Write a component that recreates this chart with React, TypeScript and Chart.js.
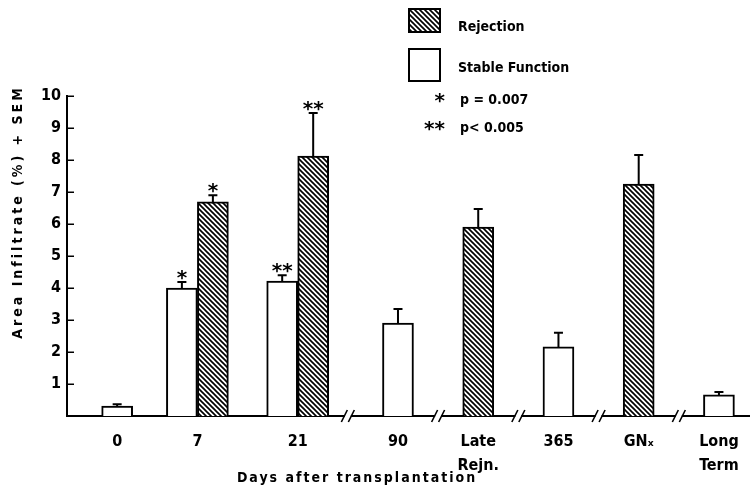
import React, { useEffect, useRef } from "react";
import { Chart, registerables } from "chart.js";

Chart.register(...registerables);

// ---------- data ----------
const categories = ["0", "7", "21", "90", "Late Rejn.", "365", "GNₓ", "Long Term"];
const tickLabels: (string | string[])[] = ["0", "7", "21", "90", ["Late", "Rejn."], "365", "GNₓ", ["Long", "Term"]];
const stableValues: (number | null)[] = [0.31, 4.0, 4.22, 2.9, null, 2.16, null, 0.66];
const stableSem: (number | null)[] = [0.06, 0.19, 0.18, 0.44, null, 0.44, null, 0.09];
const rejectionValues: (number | null)[] = [null, 6.69, 8.12, null, 5.9, null, 7.25, null];
const rejectionSem: (number | null)[] = [null, 0.21, 1.35, null, 0.57, null, 0.91, null];
const stableStars = ["", "*", "**", "", "", "", "", ""];
const rejectionStars = ["", "*", "**", "", "", "", "", ""];
const breakAfter = [false, false, true, true, true, true, true, false];
const legendNotes: [string, string][] = [["*", "p = 0.007"], ["**", "p< 0.005"]];
const yTitle = "Area Infiltrate (%) + SEM";
const xTitle = "Days after transplantation";
const yMin = 0;
const yMax = 10;

// ---------- layout (not data) ----------
const SLOT_COUNT = 34;
const SLOT_OF = [2, 6, 11, 16, 20, 24, 28, 32];
const NARROW = "'Liberation Sans Narrow', 'DejaVu Sans Condensed', 'Arial Narrow', sans-serif";
const STAR_FONT = "bold 20px 'DejaVu Sans', sans-serif";

function makeHatch(): CanvasPattern | string {
  const p = 5;
  const c = document.createElement("canvas");
  c.width = p;
  c.height = p;
  const g = c.getContext("2d");
  if (!g) return "#888";
  g.fillStyle = "#fff";
  g.fillRect(0, 0, p, p);
  g.strokeStyle = "#000";
  g.lineWidth = 1.7;
  for (const k of [-1, 0, 1]) {
    g.beginPath();
    g.moveTo(k * p - 1, -1);
    g.lineTo(k * p + p + 1, p + 1);
    g.stroke();
  }
  return g.createPattern(c, "repeat") || "#888";
}

function drawStar(ctx: CanvasRenderingContext2D, text: string, x: number, bottom: number, align: CanvasTextAlign) {
  ctx.save();
  ctx.font = STAR_FONT;
  ctx.fillStyle = "#000";
  ctx.textAlign = align;
  ctx.textBaseline = "alphabetic";
  const m = ctx.measureText(text);
  ctx.fillText(text, x, bottom - m.actualBoundingBoxDescent);
  ctx.restore();
}

export default function App() {
  const ref = useRef<HTMLCanvasElement>(null);

  useEffect(() => {
    const canvas = ref.current;
    if (!canvas) return;
    const hatch = makeHatch();

    const labels: (string | string[])[] = Array.from({ length: SLOT_COUNT }, () => "");
    const stableData: (number | null)[] = Array(SLOT_COUNT).fill(null);
    const rejectionData: (number | null)[] = Array(SLOT_COUNT).fill(null);
    categories.forEach((_, k) => {
      const s = SLOT_OF[k];
      labels[s] = tickLabels[k];
      stableData[s] = stableValues[k];
      rejectionData[s] = rejectionValues[k];
    });

    const decorations = {
      id: "decorations",
      afterDatasetsDraw(chart: any) {
        const ctx: CanvasRenderingContext2D = chart.ctx;
        const y = chart.scales.y;
        const sets = [
          { sem: stableSem, stars: stableStars },
          { sem: rejectionSem, stars: rejectionStars },
        ];
        ctx.save();
        ctx.strokeStyle = "#000";
        ctx.lineWidth = 2;
        sets.forEach((s, d) => {
          const meta = chart.getDatasetMeta(d);
          categories.forEach((_, k) => {
            const slot = SLOT_OF[k];
            const v = chart.data.datasets[d].data[slot];
            if (v == null) return;
            const el = meta.data[slot];
            const sem = s.sem[k] ?? 0;
            const top = y.getPixelForValue(v + sem);
            ctx.beginPath();
            ctx.moveTo(el.x, el.y);
            ctx.lineTo(el.x, top);
            ctx.moveTo(el.x - 4.5, top);
            ctx.lineTo(el.x + 4.5, top);
            ctx.stroke();
            if (s.stars[k]) drawStar(ctx, s.stars[k], el.x, top - 2, "center");
          });
        });
        ctx.restore();
      },
      afterDraw(chart: any) {
        const ctx: CanvasRenderingContext2D = chart.ctx;
        const area = chart.chartArea;
        const y = chart.scales.y;
        const x = chart.scales.x;
        ctx.save();
        // inward y ticks
        ctx.strokeStyle = "#000";
        ctx.lineWidth = 1.5;
        for (let v = yMin + 1; v <= yMax; v++) {
          const py = Math.round(y.getPixelForValue(v)) + 0.25;
          ctx.beginPath();
          ctx.moveTo(area.left, py);
          ctx.lineTo(area.left + 7, py);
          ctx.stroke();
        }
        // axis breaks
        const base = area.bottom;
        for (let k = 0; k < categories.length - 1; k++) {
          if (!breakAfter[k]) continue;
          const bx = (x.getPixelForValue(SLOT_OF[k]) + x.getPixelForValue(SLOT_OF[k + 1])) / 2;
          ctx.fillStyle = "#fff";
          ctx.fillRect(bx - 3, base - 2, 6, 4);
          ctx.strokeStyle = "#000";
          ctx.lineWidth = 1.6;
          for (const off of [-3.5, 3.5]) {
            ctx.beginPath();
            ctx.moveTo(bx + off - 3, base + 6);
            ctx.lineTo(bx + off + 3, base - 6);
            ctx.stroke();
          }
        }
        // legend
        const ds = chart.data.datasets;
        ctx.lineWidth = 2;
        ctx.strokeStyle = "#000";
        ctx.fillStyle = hatch as any;
        ctx.fillRect(409, 9, 31, 23);
        ctx.strokeRect(409, 9, 31, 23);
        ctx.fillStyle = "#fff";
        ctx.fillRect(409, 49, 31, 32);
        ctx.strokeRect(409, 49, 31, 32);
        ctx.fillStyle = "#000";
        ctx.font = `bold 14px ${NARROW}`;
        ctx.textAlign = "left";
        ctx.textBaseline = "alphabetic";
        ctx.fillText(ds[1].label, 458, 31);
        ctx.fillText(ds[0].label, 458, 72);
        const noteBase = [104, 132];
        legendNotes.forEach(([star, txt], i) => {
          drawStar(ctx, star, 445, noteBase[i] - 1, "right");
          ctx.font = `bold 14px ${NARROW}`;
          ctx.fillStyle = "#000";
          ctx.textAlign = "left";
          ctx.fillText(txt, 460, noteBase[i]);
        });
        // axis titles
        ctx.font = `bold 14px ${NARROW}`;
        (ctx as any).letterSpacing = "2px";
        ctx.textAlign = "center";
        ctx.textBaseline = "alphabetic";
        ctx.fillText(xTitle, 357, 482);
        (ctx as any).letterSpacing = "3px";
        ctx.translate(22, 212);
        ctx.rotate(-Math.PI / 2);
        ctx.fillText(yTitle, 0, 0);
        ctx.restore();
      },
    };

    const chart = new Chart(canvas, {
      type: "bar",
      data: {
        labels,
        datasets: [
          {
            label: "Stable Function",
            data: stableData,
            backgroundColor: "#fff",
            borderColor: "#000",
            borderWidth: 2,
            barThickness: 31,
          },
          {
            label: "Rejection",
            data: rejectionData,
            backgroundColor: hatch as any,
            borderColor: "#000",
            borderWidth: 2,
            barThickness: 31,
          },
        ],
      },
      options: {
        animation: false,
        responsive: false,
        skipNull: true,
        layout: { padding: { top: 96, right: 0, bottom: 0, left: 0 } },
        plugins: { legend: { display: false }, tooltip: { enabled: false }, title: { display: false } },
        scales: {
          x: {
            type: "category",
            z: 1,
            grid: { display: false, drawTicks: false },
            border: { display: true, color: "#000", width: 2 },
            ticks: {
              autoSkip: false,
              maxRotation: 0,
              minRotation: 0,
              padding: 14,
              color: "#000",
              font: { family: NARROW, size: 16, weight: "bold", lineHeight: 1.5 },
            },
            afterFit: (scale: any) => {
              scale.height = 77;
            },
          },
          y: {
            min: yMin,
            max: yMax,
            grid: { display: false, drawTicks: false },
            border: { display: true, color: "#000", width: 2 },
            ticks: {
              stepSize: 1,
              padding: 6,
              color: "#000",
              font: { family: NARROW, size: 16, weight: "bold" },
              callback: (v: any) => (Number(v) === 0 ? "" : String(v)),
            },
            afterFit: (scale: any) => {
              scale.width = 67;
            },
          },
        },
      } as any,
      plugins: [decorations],
    });

    return () => chart.destroy();
  }, []);

  return (
    <div style={{ position: "absolute", left: 0, top: 0, width: 753, height: 493, background: "#fff" }}>
      <canvas ref={ref} width={753} height={493} style={{ display: "block" }} />
    </div>
  );
}
